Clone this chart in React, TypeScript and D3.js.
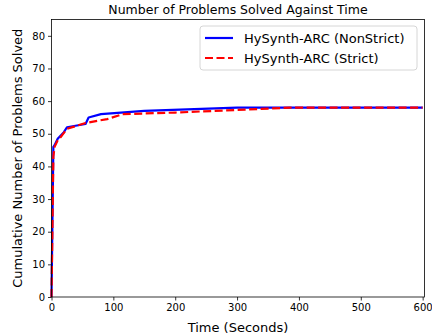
import React, { useEffect, useRef } from 'react';
import * as d3 from 'd3';

// cumulative problems solved vs time (seconds)
const nonStrictTimes = [0, 3, 5, 10, 15, 20, 25, 55, 60, 80, 150, 300, 600];
const nonStrictSolved = [0, 46, 46.5, 48.5, 49.5, 50.5, 52, 53, 55, 56, 57, 58, 58];
const strictTimes = [0, 3, 5, 10, 15, 25, 55, 90, 115, 200, 300, 385, 600];
const strictSolved = [0, 43, 46, 48, 49, 51.5, 53.3, 54.5, 56, 56.5, 57.3, 58, 58];
const xTicks = [0, 100, 200, 300, 400, 500, 600];
const yTicks = [0, 10, 20, 30, 40, 50, 60, 70, 80];
const seriesNames = ['HySynth-ARC (NonStrict)', 'HySynth-ARC (Strict)'];

const W = 432;
const H = 335;
const M = { top: 19.5, right: 7.5, bottom: 38, left: 51.5 };
const FONT = 'DejaVu Sans, sans-serif';

export default function App() {
  const ref = useRef<SVGSVGElement>(null);

  useEffect(() => {
    const svg = d3.select(ref.current);
    svg.selectAll('*').remove();

    const x = d3.scaleLinear().domain([0, 603]).range([M.left, W - M.right]);
    const y = d3.scaleLinear().domain([0, 85]).range([H - M.bottom, M.top]);

    const xAxis = svg.append('g')
      .attr('transform', `translate(0,${H - M.bottom})`)
      .call(d3.axisBottom(x).tickValues(xTicks).tickSize(3.5).tickPadding(3));
    const yAxis = svg.append('g')
      .attr('transform', `translate(${M.left},0)`)
      .call(d3.axisLeft(y).tickValues(yTicks).tickSize(3.5).tickPadding(3));
    [xAxis, yAxis].forEach(a => {
      a.select('.domain').remove();
      a.selectAll('text').style('font-family', FONT).style('font-size', '10px').attr('fill', '#000');
      a.selectAll('line').attr('stroke', '#000').attr('stroke-width', 0.8);
    });

    const line = d3.line<[number, number]>().x(d => x(d[0])).y(d => y(d[1]));
    const plot = svg.append('g');
    plot.append('path')
      .attr('d', line(nonStrictTimes.map((t, i) => [t, nonStrictSolved[i]])))
      .attr('fill', 'none').attr('stroke', '#0000ff').attr('stroke-width', 2.2)
      .attr('stroke-linejoin', 'round');
    plot.append('path')
      .attr('d', line(strictTimes.map((t, i) => [t, strictSolved[i]])))
      .attr('fill', 'none').attr('stroke', '#ff0000').attr('stroke-width', 2.2)
      .attr('stroke-dasharray', '8,3.5');

    // frame
    svg.append('rect')
      .attr('x', M.left).attr('y', M.top)
      .attr('width', W - M.left - M.right).attr('height', H - M.top - M.bottom)
      .attr('fill', 'none').attr('stroke', '#000').attr('stroke-width', 0.8);

    svg.append('text')
      .attr('x', (M.left + W - M.right) / 2).attr('y', 14)
      .attr('text-anchor', 'middle')
      .style('font-family', FONT).style('font-size', '12.5px')
      .text('Number of Problems Solved Against Time');

    svg.append('text')
      .attr('x', (M.left + W - M.right) / 2).attr('y', 332)
      .attr('text-anchor', 'middle')
      .style('font-family', FONT).style('font-size', '13px')
      .text('Time (Seconds)');

    svg.append('text')
      .attr('transform', `translate(22,${(M.top + H - M.bottom) / 2}) rotate(-90)`)
      .attr('text-anchor', 'middle')
      .style('font-family', FONT).style('font-size', '13px')
      .text('Cumulative Number of Problems Solved');

    // legend
    const lg = svg.append('g').attr('transform', 'translate(200,26)');
    lg.append('rect')
      .attr('width', 217).attr('height', 44).attr('rx', 3)
      .attr('fill', '#fff').attr('fill-opacity', 0.8)
      .attr('stroke', '#cccccc').attr('stroke-width', 0.8);
    const styles = [
      { color: '#0000ff', dash: null },
      { color: '#ff0000', dash: '8,3.5' },
    ];
    seriesNames.forEach((name, i) => {
      const cy = 12 + i * 20;
      lg.append('line')
        .attr('x1', 5).attr('x2', 33).attr('y1', cy).attr('y2', cy)
        .attr('stroke', styles[i].color).attr('stroke-width', 2.2)
        .attr('stroke-dasharray', styles[i].dash);
      lg.append('text')
        .attr('x', 44).attr('y', cy).attr('dy', '0.35em')
        .style('font-family', FONT).style('font-size', '13px')
        .text(name);
    });
  }, []);

  return <svg ref={ref} width={W} height={H} style={{ position: 'absolute', left: 0, top: 0 }} />;
}
